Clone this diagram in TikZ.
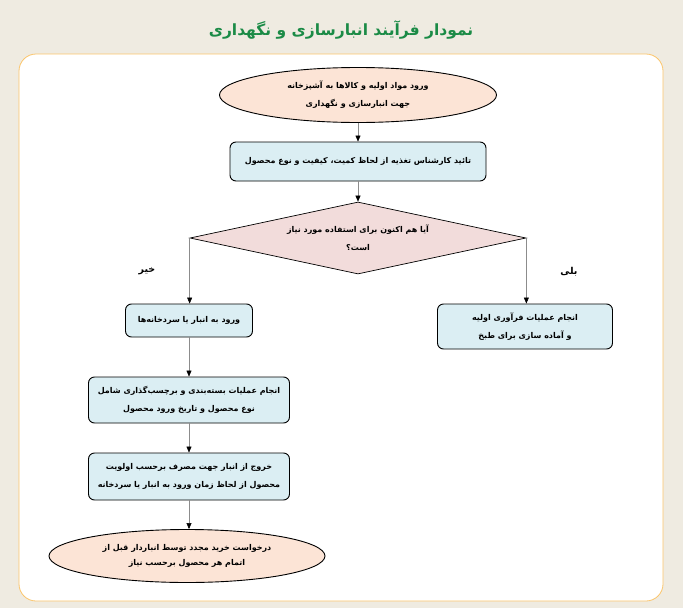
\documentclass[tikz,border=0pt]{standalone}
\usepackage{fontspec}
\newfontfamily\arabicfont[Script=Arabic]{DejaVu Sans}
\TeXXeTstate=1
\usepackage{tikz}
\usetikzlibrary{positioning,arrows.meta,shapes.geometric}
\usepackage{xcolor}
\definecolor{page}{HTML}{EFEBE1}
\definecolor{frame}{HTML}{FBC56B}
\definecolor{heading}{HTML}{1B8B46}
\definecolor{peach}{HTML}{FCE4D6}
\definecolor{sky}{HTML}{DBEEF3}
\definecolor{rose}{HTML}{F2DCDB}
\definecolor{wire}{HTML}{8C8C8C}
\newcommand{\fa}[1]{{\arabicfont\bfseries\beginR #1\endR}}

\begin{document}
\begin{tikzpicture}[x=1pt, y=-1pt,
    txt/.style={font=\fontsize{8}{18}\selectfont, align=center, inner sep=0pt},
    terminal/.style={txt, ellipse, draw=black, line width=0.9pt, fill=peach},
    stepbox/.style={txt, rectangle, rounded corners=6pt, draw=black, line width=0.9pt, fill=sky},
    query/.style={txt, diamond, draw=black, line width=0.7pt, fill=rose, shape aspect=4.6},
    flow/.style={draw=wire, line width=0.5pt, -{Triangle[length=6pt, width=5pt, color=black]}}]
  \fill[page] (0,0) rectangle (683,608);
  \useasboundingbox (0,0) rectangle (683,608);
  \node (title) at (341,30) {\fontsize{15.5}{18}\selectfont\color{heading}\fa{نمودار فرآیند انبارسازی و نگهداری}};
  \draw[frame, fill=white, line width=0.8pt, rounded corners=17pt] (19,54) rectangle (663,601);

  % main column
  \node[terminal, minimum width=277pt, minimum height=55pt] (start) at (358,95)
    {\fa{ورود مواد اولیه و کالاها به آشپزخانه}\\ \fa{جهت انبارسازی و نگهداری}};
  \node[stepbox, minimum width=256pt, minimum height=39pt] (check) at (358,161.5)
    {\fa{تائید کارشناس تغذیه از لحاظ کمیت، کیفیت و نوع محصول}};
  \node[query, minimum width=336pt, minimum height=72pt] (ask) at (358,238)
    {\fa{آیا هم اکنون برای استفاده مورد نیاز}\\ \fa{است؟}};

  % branches
  \node[stepbox, minimum width=127pt, minimum height=33pt] (store) at (189,320.5)
    {\fa{ورود به انبار یا سردخانه‌ها}};
  \node[stepbox, minimum width=175pt, minimum height=45pt] (prep) at (525,326.5)
    {\fa{انجام عملیات فرآوری اولیه}\\ \fa{و آماده سازی برای طبخ}};
  \node[stepbox, minimum width=201pt, minimum height=46pt] (pack) at (189,400)
    {\fa{انجام عملیات بسته‌بندی و برچسب‌گذاری شامل}\\ \fa{نوع محصول و تاریخ ورود محصول}};
  \node[stepbox, minimum width=201pt, minimum height=47pt] (issue) at (189,476.5)
    {\fa{خروج از انبار جهت مصرف برحسب اولویت}\\ \fa{محصول از لحاظ زمان ورود به انبار یا سردخانه}};
  \node[terminal, minimum width=276pt, minimum height=53pt, font=\fontsize{8}{15}\selectfont] (reorder) at (187,556)
    {\fa{درخواست خرید مجدد توسط انباردار قبل از}\\ \fa{اتمام هر محصول برحسب نیاز}};

  \node[txt, font=\fontsize{9.5}{11}\selectfont] (no) at (147,271) {\fa{خیر}};
  \node[txt, font=\fontsize{9.5}{11}\selectfont] (yes) at (569,272) {\fa{بلی}};

  \draw[flow] (start) -- (check);
  \draw[flow] (check) -- (ask);
  \draw[flow] (ask.west) -- (ask.west |- store.north);
  \draw[flow] (ask.east) -- (ask.east |- prep.north);
  \draw[flow] (store) -- (pack);
  \draw[flow] (pack) -- (issue);
  \draw[flow] (issue) -- (issue |- reorder.north);
\end{tikzpicture}
\end{document}
